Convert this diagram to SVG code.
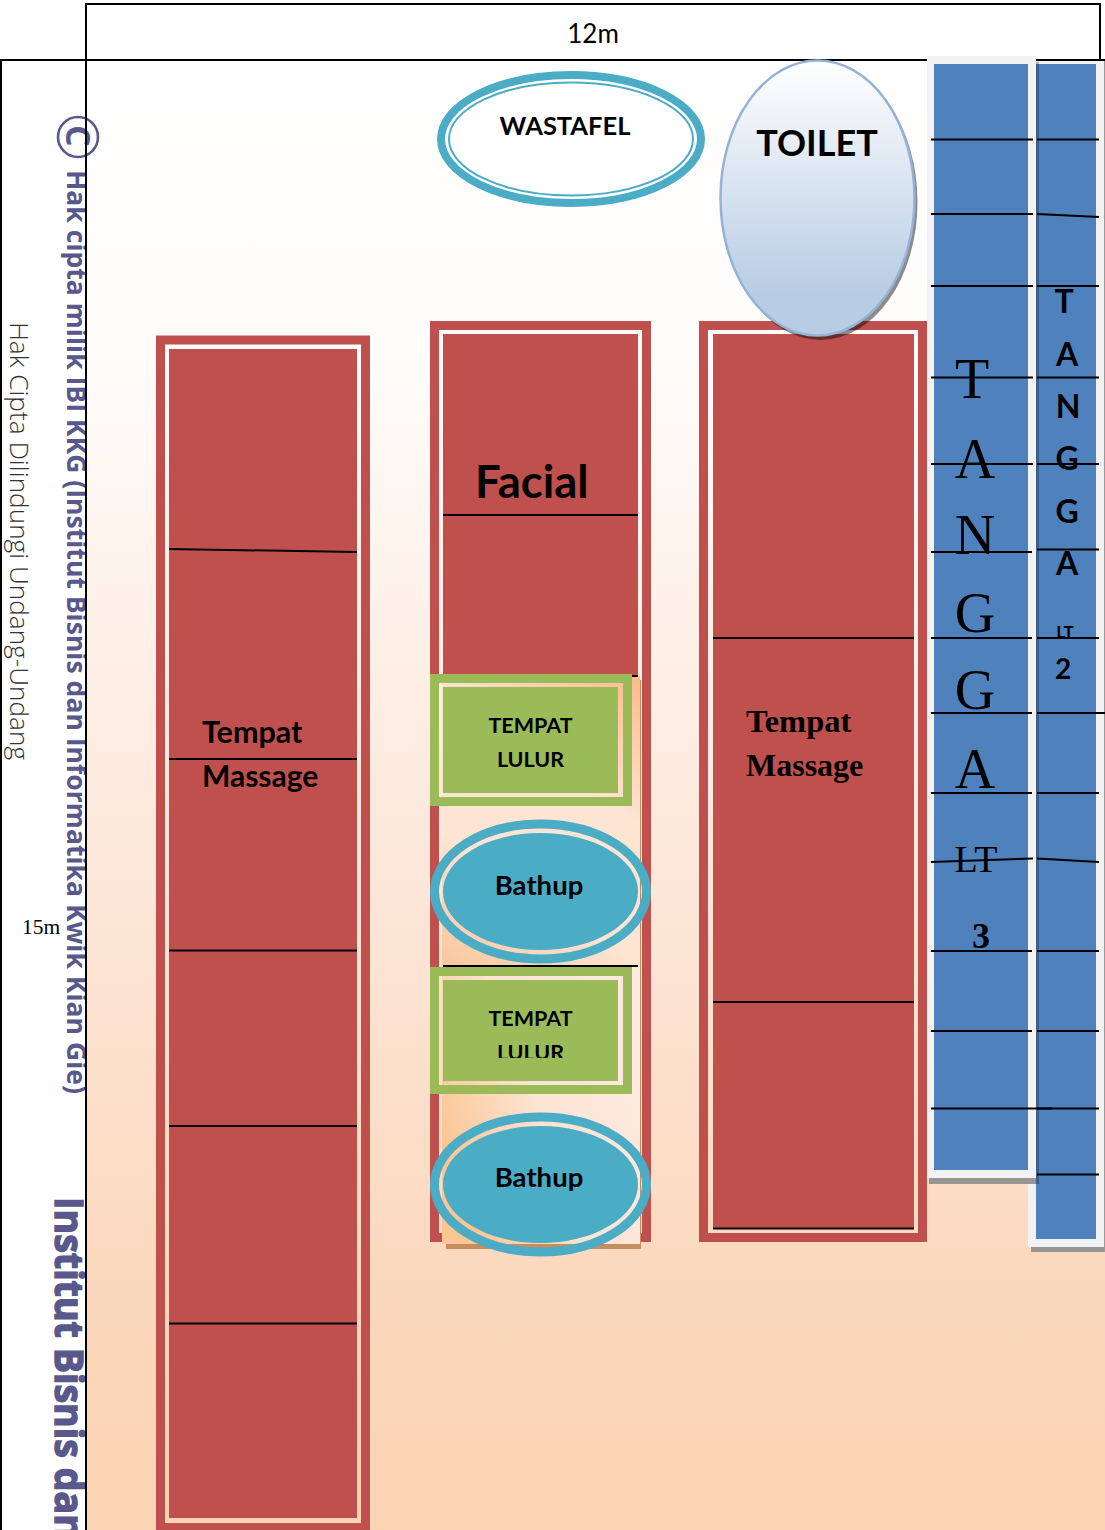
<svg xmlns="http://www.w3.org/2000/svg" width="1105" height="1530" viewBox="0 0 1105 1530">
<style>
.band{fill:none;stroke:#c0504d;stroke-width:9}
.red{fill:#c0504d}
.gband{fill:none;stroke:#9bbb59;stroke-width:9}
.green{fill:#9bbb59}
.tband{fill:none;stroke:#4bacc6;stroke-width:9}
.teal{fill:#4bacc6}
.frame{fill:#f2f2f2}
.blue{fill:#4f81bd}
.shade{fill:#000;fill-opacity:.38}
.drop{fill:#8c8c8c;fill-opacity:.9}
.cal{font-family:Lato,"Open Sans",sans-serif;font-weight:700;fill:#000}
.ser{font-family:"Liberation Serif",serif;fill:#000}
.wm{font-family:"Open Sans",sans-serif;font-weight:700;fill:#58588c}
.mid{text-anchor:middle}
#connectors line{stroke:#000;stroke-width:2}
</style>
<defs>
<linearGradient id="bg" gradientUnits="userSpaceOnUse" x1="0" y1="60" x2="0" y2="1530">
<stop offset="0" stop-color="#fff"/><stop offset=".18" stop-color="#fffdfb"/><stop offset=".5" stop-color="#fdeade"/><stop offset=".88" stop-color="#fbd6b9"/><stop offset="1" stop-color="#fbd4b4"/>
</linearGradient>
<linearGradient id="toiletFill" x1="0" y1="0" x2="0" y2="1">
<stop offset="0" stop-color="#fff"/><stop offset=".85" stop-color="#b8cce4"/><stop offset="1" stop-color="#b8cce4"/>
</linearGradient>
<linearGradient id="peach1" gradientUnits="userSpaceOnUse" x1="450" y1="960" x2="640" y2="680">
<stop offset="0" stop-color="#fbc9a0"/><stop offset=".3" stop-color="#fde4d3"/><stop offset=".65" stop-color="#fde4d3"/><stop offset="1" stop-color="#fbbd8a"/>
</linearGradient>
<linearGradient id="peach2" gradientUnits="userSpaceOnUse" x1="442" y1="1150" x2="640" y2="1080">
<stop offset="0" stop-color="#fbc594"/><stop offset=".5" stop-color="#fde4d3"/><stop offset="1" stop-color="#fdeadf"/>
</linearGradient>
<clipPath id="leftStrip"><rect x="0" y="60" width="86" height="1470"/></clipPath>
<clipPath id="lulurClip"><rect x="440" y="1030" width="180" height="28"/></clipPath>
</defs>

<g id="page">
<rect x="86" y="4" width="1014" height="56" fill="#fff" stroke="#000" stroke-width="2"/>
<text x="593" y="43" class="mid" font-family="Lato,sans-serif" font-size="26" fill="#000">12m</text>
<rect x="1" y="60" width="1110" height="1480" fill="#fff" stroke="#000" stroke-width="2"/>
</g>

<g id="watermark">
<text transform="translate(10,322) rotate(90)" font-family="'Open Sans',sans-serif" font-weight="300" font-size="25" fill="#333" textLength="438" lengthAdjust="spacingAndGlyphs">Hak Cipta Dilindungi Undang-Undang</text>
<g clip-path="url(#leftStrip)">
<text transform="translate(67,170) rotate(90)" class="wm" font-size="27" textLength="924" lengthAdjust="spacingAndGlyphs">Hak cipta milik IBI KKG (Institut Bisnis dan Informatika Kwik Kian Gie)</text>
<text transform="translate(55,1197) rotate(90) scale(.94,1)" class="wm" font-size="40" stroke="#58588c" stroke-width="1.500">Institut Bisnis dan</text>
</g>
</g>

<rect id="floor" x="87" y="61" width="1018" height="1469" fill="url(#bg)"/>

<g id="copyright">
<circle cx="78" cy="137" r="20" fill="none" stroke="#58588c" stroke-width="2.600"/>
<text transform="translate(66,125) rotate(90)" class="wm" font-size="34">C</text>
</g>
<g id="border">
<rect x="85" y="4" width="2" height="1526" fill="#000"/>
<rect x="86" y="59" width="842" height="2" fill="#000"/>
<text x="22" y="934" class="ser" font-size="21.500">15m</text>
</g>

<g id="massage-left">
<rect class="band" x="160.500" y="340" width="205" height="1187.500"/>
<rect class="red" x="169" y="349" width="188" height="1169"/>
<text x="202" y="743" class="cal" font-size="30.500">Tempat</text>
<text x="202" y="787" class="cal" font-size="30">Massage</text>
</g>

<g id="facial">
<rect class="band" x="434.500" y="325.500" width="212" height="912"/>
<rect class="red" x="443" y="334" width="195" height="345"/>
<text x="475" y="498" class="cal" font-size="45.500">Facial</text>
</g>

<g id="massage-right">
<rect class="band" x="703.500" y="325.500" width="219" height="912"/>
<rect class="red" x="713" y="334" width="201" height="895"/>
<text x="746" y="732" class="ser" font-size="32.500" font-weight="700">Tempat</text>
<text x="746" y="776" class="ser" font-size="32" font-weight="700">Massage</text>
</g>

<g id="bath-area">
<rect x="446" y="680" width="195" height="569" fill="#c68d5e"/>
<rect x="442" y="676" width="198" height="290" fill="url(#peach1)"/>
<rect x="442" y="966" width="198" height="278" fill="url(#peach2)"/>
</g>

<g id="lulur-1">
<rect class="gband" x="434.500" y="678.500" width="193" height="123"/>
<rect class="green" x="443" y="687" width="175" height="106"/>
<text x="530.500" y="733" class="cal mid" font-size="21.500">TEMPAT</text>
<text x="530.500" y="767" class="cal mid" font-size="21.500">LULUR</text>
</g>

<g id="bathup-1">
<ellipse class="tband" cx="540.500" cy="891.500" rx="106" ry="67.500"/>
<ellipse class="teal" cx="540.500" cy="891.500" rx="97.500" ry="58.500"/>
<text x="539" y="895" class="cal mid" font-size="27.500">Bathup</text>
</g>

<g id="lulur-2">
<rect class="gband" x="434.500" y="971.500" width="193" height="118"/>
<rect class="green" x="443" y="980" width="175" height="101"/>
<text x="530.500" y="1026" class="cal mid" font-size="21.500">TEMPAT</text>
<text x="530.500" y="1060" class="cal mid" font-size="21.500" clip-path="url(#lulurClip)">LULUR</text>
</g>

<g id="bathup-2">
<ellipse class="tband" cx="540.500" cy="1184.500" rx="106" ry="67.500"/>
<ellipse class="teal" cx="540.500" cy="1184.500" rx="97.500" ry="58.500"/>
<text x="539" y="1187" class="cal mid" font-size="27.500">Bathup</text>
</g>

<g id="wastafel">
<ellipse cx="571" cy="139" rx="130" ry="64" fill="#fff" stroke="#4bacc6" stroke-width="8"/>
<ellipse cx="571" cy="139" rx="122" ry="56.500" fill="#fff" stroke="#4bacc6" stroke-width="2"/>
<text x="565" y="135" class="cal mid" font-size="25.500">WASTAFEL</text>
</g>

<g id="toilet">
<ellipse cx="820.500" cy="202" rx="97" ry="138" class="shade" style="fill-opacity:.45"/>
<ellipse cx="817.500" cy="198" rx="97" ry="137.500" fill="url(#toiletFill)" stroke="#95b3d7" stroke-width="2.500"/>
<text x="817" y="156" class="cal mid" font-size="36">TOILET</text>
</g>

<g id="tangga-lt2">
<rect class="frame" x="1028" y="61" width="76" height="1186"/>
<rect class="drop" x="1031" y="1247" width="73" height="5"/>
<rect x="1104" y="61" width="1" height="1191" fill="#9a9a9a"/>
<rect class="blue" x="1036" y="64" width="60" height="1175"/>
<text x="1064" y="313" class="cal mid" font-size="32">T</text>
<text x="1067" y="366" class="cal mid" font-size="32">A</text>
<text x="1068" y="418" class="cal mid" font-size="32">N</text>
<text x="1067" y="470" class="cal mid" font-size="32">G</text>
<text x="1067" y="523" class="cal mid" font-size="32">G</text>
<text x="1067" y="575" class="cal mid" font-size="32">A</text>
<text x="1065" y="638" class="cal mid" font-size="17">LT</text>
<text x="1063" y="679" class="cal mid" font-size="28">2</text>
</g>

<g id="tangga-lt3">
<rect class="drop" x="929" y="1178" width="107" height="6"/>
<rect class="shade" x="1036" y="62" width="3" height="1122" style="fill-opacity:.25"/>
<rect class="frame" x="927" y="56" width="109" height="1122"/>
<rect class="blue" x="934" y="64" width="94" height="1106"/>
<text x="972" y="398" class="ser mid" font-size="56">T</text>
<text x="975" y="478" class="ser mid" font-size="56">A</text>
<text x="975" y="554" class="ser mid" font-size="56">N</text>
<text x="975" y="632" class="ser mid" font-size="56">G</text>
<text x="975" y="709" class="ser mid" font-size="56">G</text>
<text x="975" y="788" class="ser mid" font-size="56">A</text>
<text x="976" y="872" class="ser mid" font-size="38">LT</text>
<text x="981" y="948" class="ser mid" font-size="36" font-weight="700">3</text>
</g>

<g id="connectors">
<line x1="169" y1="549" x2="357" y2="552"/>
<line x1="169" y1="759" x2="357" y2="759"/>
<line x1="169" y1="950.500" x2="357" y2="950.500"/>
<line x1="169" y1="1126" x2="357" y2="1126"/>
<line x1="169" y1="1323.500" x2="357" y2="1323.500"/>
<line x1="443" y1="515" x2="638" y2="515"/>
<line x1="632" y1="676" x2="638" y2="676"/>
<line x1="443" y1="966" x2="638" y2="966"/>
<line x1="713" y1="638" x2="914" y2="638"/>
<line x1="713" y1="1002" x2="914" y2="1002"/>
<line x1="713" y1="1228.500" x2="914" y2="1228.500"/>
<line x1="931" y1="139.500" x2="1033" y2="139.500"/>
<line x1="931" y1="214" x2="1033" y2="214"/>
<line x1="931" y1="286" x2="1033" y2="286"/>
<line x1="931" y1="377.500" x2="1033" y2="377.500"/>
<line x1="931" y1="464" x2="1033" y2="464"/>
<line x1="931" y1="552" x2="1032" y2="552"/>
<line x1="931" y1="638" x2="1032" y2="638"/>
<line x1="931" y1="713" x2="1032" y2="713"/>
<line x1="931" y1="793" x2="1032" y2="793"/>
<line x1="931" y1="862" x2="1033" y2="858.500"/>
<line x1="931" y1="951" x2="1032" y2="951"/>
<line x1="931" y1="1031" x2="1032" y2="1031"/>
<line x1="931" y1="1108.500" x2="1052" y2="1108.500"/>
<line x1="1037" y1="139.500" x2="1099" y2="139.500"/>
<line x1="1037" y1="214" x2="1099" y2="217"/>
<line x1="1037" y1="286" x2="1099" y2="286"/>
<line x1="1037" y1="377.500" x2="1099" y2="377.500"/>
<line x1="1037" y1="464" x2="1099" y2="464"/>
<line x1="1037" y1="549.500" x2="1099" y2="549.500"/>
<line x1="1037" y1="638" x2="1099" y2="638"/>
<line x1="1037" y1="713" x2="1105" y2="713"/>
<line x1="1037" y1="793" x2="1099" y2="793"/>
<line x1="1037" y1="858.500" x2="1099" y2="862"/>
<line x1="1037" y1="951" x2="1099" y2="951"/>
<line x1="1037" y1="1031" x2="1099" y2="1031"/>
<line x1="1037" y1="1108.500" x2="1099" y2="1108.500"/>
<line x1="1037" y1="1174.500" x2="1099" y2="1174.500"/>
</g>
</svg>
